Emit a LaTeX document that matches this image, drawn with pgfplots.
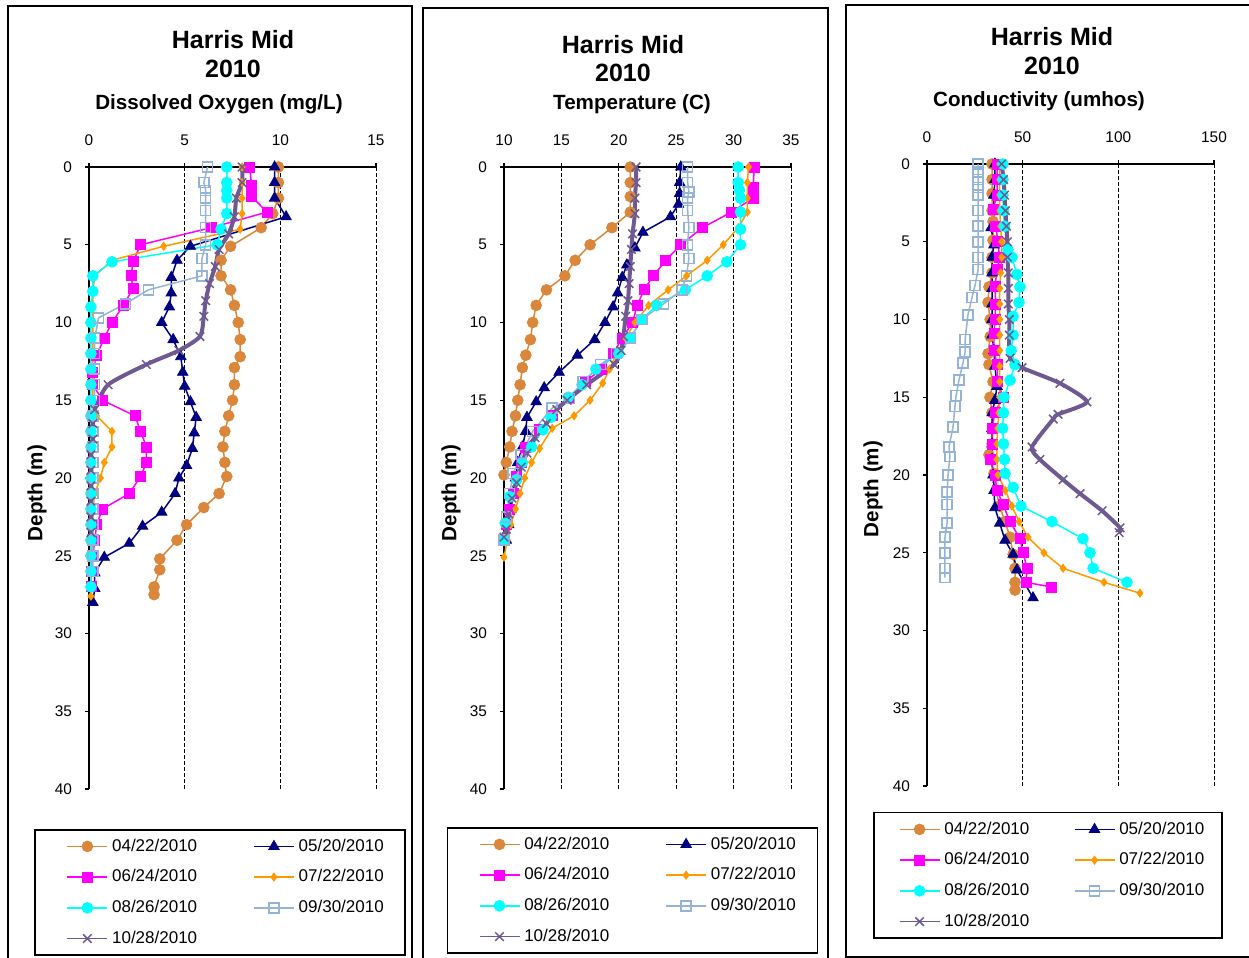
\documentclass[border=0pt]{standalone}
\usepackage{pgfplots}
\pgfplotsset{compat=1.18}
\usepackage{fontspec}
\setmainfont{Liberation Sans}

\definecolor{c1}{RGB}{218,134,59}
\definecolor{c2}{RGB}{0,0,128}
\definecolor{c3}{RGB}{255,0,255}
\definecolor{c4}{RGB}{255,153,0}
\definecolor{c5}{RGB}{0,255,255}
\definecolor{c6}{RGB}{149,179,215}
\definecolor{c7}{RGB}{111,89,145}

\pgfplotsset{
 s1/.style={color=c1, line width=0.75pt, mark=*, mark size=2.7pt, mark options={solid, fill=c1, line width=0.4pt}},
 s2/.style={color=c2, line width=0.75pt, mark=triangle*, mark size=3pt, mark options={solid, fill=c2, line width=0.4pt}},
 s3/.style={color=c3, line width=0.75pt, mark=square*, mark size=2.5pt, mark options={solid, fill=c3, line width=0.4pt}},
 s4/.style={color=c4, line width=0.75pt, mark=diamond*, mark size=2pt, mark options={solid, fill=c4, line width=0.4pt}},
 s5/.style={color=c5, line width=0.75pt, mark=*, mark size=2.7pt, mark options={solid, fill=c5, line width=0.4pt}},
 s6/.style={color=c6, line width=0.75pt, mark=square, mark size=2.5pt, mark options={solid, line width=0.75pt}},
 s7/.style={color=c7, line width=2pt, mark=x, mark size=3pt, smooth, tension=0.4, mark options={solid, line width=0.75pt}},
 s7leg/.style={color=c7, line width=0.75pt, mark=x, mark size=3pt, mark options={solid, line width=0.75pt}},
 legimg/.style={legend image code/.code={\path (-#1,0pt); \draw[mark repeat=2,mark phase=2,##1] plot coordinates {(0pt,0pt) (10pt,0pt) (20pt,0pt)};}},
 panel/.style={
   scale only axis, height=311pt, width=143.5pt,
   y dir=reverse, ymin=0, ymax=40, ytick={0,5,...,40},
   axis x line*=top, axis y line*=left,
   tick align=outside, major tick length=2pt,
   xmajorgrids, major grid style={black, dash pattern=on 2pt off 1pt, line width=0.5pt},
   tick label style={font=\fontsize{7.7}{9}\selectfont},
   yticklabel style={xshift=-3pt},
   xticklabel style={yshift=5pt},
   /pgf/number format/assume math mode=true,
   clip=false,
   axis line style={line width=0.6pt, black},
   tick style={black, line width=0.6pt},
   legend columns=2, legend cell align=left,
   legimg=7pt,
   legend style={draw=black, line width=0.75pt, font=\fontsize{8.5}{10}\selectfont,
     inner xsep=8.7pt, inner ysep=2.5pt, row sep=3.7pt,
     /tikz/every even column/.append style={column sep=19pt}},
 },
}

\begin{document}
\begin{tikzpicture}
\path[use as bounding box] (0,0) rectangle (624.5pt,479pt);
\begin{scope}[x=0.5pt,y=-0.5pt,yshift=479pt]
 \draw[line width=0.75pt] (8,970) -- (8,6) -- (412,6) -- (412,970);
 \draw[line width=0.75pt] (423,970) -- (423,8) -- (828,8) -- (828,970);
 \draw[line width=0.75pt] (846,970) -- (846,5) -- (1260,5);
 \draw[line width=0.75pt] (846,957) -- (1260,957);
 \begin{scope}[every node/.style={font=\fontsize{12.5}{14}\selectfont\bfseries}]
  \node at (233,40) {Harris Mid};
  \node at (233,69) {2010};
  \node at (623,45) {Harris Mid};
  \node at (623,73) {2010};
  \node at (1052,37) {Harris Mid};
  \node at (1052,66) {2010};
 \end{scope}
 \begin{scope}[every node/.style={font=\fontsize{10.3}{12}\selectfont\bfseries}]
  \node at (219,104) {Dissolved Oxygen (mg/L)};
  \node at (632,104) {Temperature (C)};
  \node at (1039,101) {Conductivity (umhos)};
  \node[rotate=90] at (37,493) {Depth (m)};
  \node[rotate=90] at (451,493) {Depth (m)};
  \node[rotate=90] at (873,489) {Depth (m)};
 \end{scope}
\end{scope}

% ---------------- Dissolved oxygen ----------------
\begin{axis}[panel, at={(44.5pt,84.5pt)}, anchor=south west,
  xmin=0, xmax=15, xtick={0,5,10,15},
  legend style={at={(axis description cs:-0.19,-0.0643)}, anchor=north west}]
\addplot[s1, forget plot] coordinates {(9.9,0) (9.9,1) (9.9,2) (9.6,3) (9.0,3.9) (7.4,5.1) (6.9,6) (6.9,7) (7.4,7.9) (7.6,8.9) (7.8,10) (7.9,11.1) (7.9,12.2) (7.6,12.9) (7.6,14) (7.5,15) (7.3,16) (7.1,17) (7.0,18) (7.1,19) (7.2,19.9) (6.8,21) (6.0,21.9) (5.1,23) (4.6,24) (3.7,25.2) (3.7,25.9) (3.4,27) (3.4,27.5)};
\addplot[s2, forget plot] coordinates {(9.7,0) (9.7,1) (9.7,2) (10.3,3.2) (5.3,5.1) (4.6,6) (4.3,7.1) (4.3,8.1) (4.2,9) (3.8,10) (4.4,11.1) (4.8,12.2) (4.9,13.2) (5.0,14.1) (5.3,15.1) (5.6,16.1) (5.5,17.1) (5.4,18.1) (5.1,19.2) (4.7,20) (4.5,21) (3.8,22.2) (2.8,23.1) (2.1,24.2) (0.8,25.1) (0.3,26.1) (0.3,27.1) (0.2,28)};
\addplot[s3, forget plot] coordinates {(8.4,0) (8.5,1.2) (8.5,1.9) (9.3,2.9) (6.4,3.9) (2.7,5) (2.3,6.1) (2.2,7) (2.3,7.8) (1.8,8.9) (1.2,10) (0.8,11) (0.4,12.1) (0.2,13.2) (0.2,14) (0.7,15) (2.4,16) (2.7,17) (3.0,18) (3.0,19) (2.7,19.9) (2.1,21) (0.7,22) (0.4,23) (0.3,24) (0.2,25) (0.1,26) (0.1,27)};
\addplot[s4, forget plot] coordinates {(8.0,0) (8.0,1) (8.0,2) (8.0,3) (7.9,4) (3.9,5.1) (1.2,6) (0.3,7) (0.2,8) (0.2,9) (0.2,10) (0.2,11) (0.2,12) (0.2,13) (0.2,14) (0.2,15) (0.4,16) (1.2,17) (1.2,18) (0.8,19) (0.6,20) (0.3,21) (0.2,22) (0.2,23) (0.2,24) (0.1,25) (0.1,26) (0.1,27) (0.1,27.6)};
\addplot[s5, forget plot] coordinates {(7.2,0) (7.2,1) (7.2,1.5) (7.2,2) (7.2,3) (6.9,4) (6.7,5) (1.2,6.1) (0.2,7) (0.2,8) (0.1,9) (0.1,10) (0.1,11) (0.1,12) (0.1,13) (0.1,14) (0.1,15) (0.1,16) (0.1,17) (0.1,18) (0.1,19) (0.1,20) (0.1,21) (0.1,22) (0.1,23) (0.1,24) (0.1,25) (0.1,26) (0.1,27)};
\addplot[s6, forget plot] coordinates {(6.2,0) (6.0,1) (6.1,1.5) (6.1,2) (6.1,2.8) (6.1,3.9) (6.1,5) (5.9,5.9) (5.9,7) (3.1,7.9) (1.9,8.8) (0.5,9.7) (0.3,11) (0.3,12) (0.3,13) (0.3,14) (0.3,15) (0.2,16) (0.2,17) (0.2,18) (0.2,19) (0.2,20) (0.2,21) (0.2,22) (0.2,23) (0.2,24) (0.2,25) (0.2,26)};
\addplot[s7, forget plot] coordinates {(8.0,0) (8.0,1) (7.7,2) (7.6,3.2) (7.3,4.3) (6.8,5.3) (6.6,6.4) (6.3,7.5) (6.1,8.6) (6.0,9.6) (5.8,10.9) (4.7,11.8) (3.0,12.7) (1.0,14) (0.3,15.6) (0.2,16.5) (0.2,17.5) (0.1,18.5) (0.1,19.5) (0.1,20.5) (0.1,21.5) (0.1,22.5) (0.1,23.5)};
\addlegendimage{s1}\addlegendimage{s2}\addlegendimage{s3}\addlegendimage{s4}
\addlegendimage{s5}\addlegendimage{s6}\addlegendimage{s7leg}
\legend{04/22/2010,05/20/2010,06/24/2010,07/22/2010,08/26/2010,09/30/2010,10/28/2010}
\end{axis}

% ---------------- Temperature ----------------
\begin{axis}[panel, at={(252pt,84.5pt)}, anchor=south west,
  xmin=10, xmax=35, xtick={10,15,...,35},
  legend style={at={(axis description cs:-0.2,-0.0611)}, anchor=north west}]
\addplot[s1, forget plot] coordinates {(21.0,0) (21.0,1) (21.0,1.9) (21.0,2.9) (19.4,3.9) (17.5,5) (16.2,6) (15.3,7) (13.7,7.9) (12.8,8.9) (12.5,10) (12.3,11.1) (11.9,12.1) (11.6,12.9) (11.4,14) (11.2,15) (11.0,16) (10.7,17) (10.5,18) (10.2,19) (10.0,19.8)};
\addplot[s2, forget plot] coordinates {(25.4,0) (25.3,1) (25.3,1.7) (25.2,2.4) (24.5,3.2) (22.1,4.2) (21.4,5.2) (20.7,6.3) (20.3,7.1) (19.9,8.1) (19.5,9) (18.8,10) (17.9,11.1) (16.4,12.1) (14.8,13.2) (13.5,14.2) (12.8,15.1) (12.0,16.1) (11.9,17) (11.6,18) (11.2,19) (11.0,20) (10.8,21) (10.6,22) (10.4,23) (10.2,24)};
\addplot[s3, forget plot] coordinates {(31.8,0) (31.7,1.3) (31.7,2) (29.8,2.9) (27.3,3.9) (25.4,5) (24.1,6) (23.0,7) (22.2,7.9) (21.6,8.9) (21.2,10) (20.3,11) (19.5,12) (18.5,13) (17.1,13.8) (15.7,14.9) (14.2,16) (13.1,16.9) (11.9,18) (11.5,19) (11.1,19.9) (10.8,21) (10.5,22) (10.2,23) (10.0,24)};
\addplot[s4, forget plot] coordinates {(31.3,0) (31.2,1) (31.2,2) (31.2,2.9) (30.4,3.9) (29.1,5) (27.7,6) (25.9,7) (24.3,7.9) (22.6,8.9) (21.4,10) (20.6,11) (19.8,12) (19.2,13) (18.6,13.9) (17.5,15) (16.1,16) (14.2,16.8) (13.1,18.1) (12.4,19) (11.8,20) (11.4,21) (11.0,22) (10.6,23) (10.3,24) (10.0,25.1)};
\addplot[s5, forget plot] coordinates {(30.4,0) (30.4,1) (30.5,1.5) (30.6,2) (30.6,2.9) (30.6,4) (30.6,5) (29.4,6.1) (27.7,7) (25.8,7.9) (23.3,8.9) (22.0,9.8) (21.0,11) (20.0,12) (18.0,13) (16.8,14) (15.6,14.8) (14.1,16.1) (13.4,16.9) (12.4,18) (11.6,19) (11.1,20.1) (10.5,21.2) (10.1,22.9) (10.0,24)};
\addplot[s6, forget plot] coordinates {(26.0,0) (26.0,1) (26.1,1.6) (26.0,2) (26.0,2.8) (26.1,3.9) (26.0,5) (26.1,5.9) (25.9,7) (25.5,7.9) (23.9,8.8) (22.0,9.8) (21.0,11) (19.8,12) (18.4,12.7) (16.9,13.8) (15.7,14.9) (14.2,15.5) (12.5,17) (11.5,18.5) (10.8,19.7) (10.5,21) (10.2,22.5) (10.0,24)};
\addplot[s7, forget plot] coordinates {(21.5,0) (21.5,1) (21.4,2) (21.4,3) (21.2,4.3) (21.1,5.3) (21.0,6.4) (20.9,7.5) (20.8,8.6) (20.6,9.6) (20.4,10.9) (20.2,11.8) (19.6,12.7) (17.2,14) (15.5,15) (14.6,15.6) (13.7,16.5) (12.7,17.4) (12.0,18.4) (11.5,19.3) (11.1,20.3) (10.7,21.3) (10.4,22.3) (10.2,23.3) (10.0,23.8)};
\addlegendimage{s1}\addlegendimage{s2}\addlegendimage{s3}\addlegendimage{s4}
\addlegendimage{s5}\addlegendimage{s6}\addlegendimage{s7leg}
\legend{04/22/2010,05/20/2010,06/24/2010,07/22/2010,08/26/2010,09/30/2010,10/28/2010}
\end{axis}

% ---------------- Conductivity ----------------
\begin{axis}[panel, at={(463.5pt,86pt)}, anchor=south west,
  xmin=0, xmax=150, xtick={0,50,100,150},
  legimg=5.8pt,
  legend style={at={(axis description cs:-0.188,-0.0418)}, anchor=north west,
    inner xsep=6.7pt, /tikz/every even column/.append style={column sep=14.4pt}}]
\addplot[s1, forget plot] coordinates {(34,0) (34,1) (34,1.9) (34,3) (34.5,3.7) (34.5,4.9) (34,6) (34,7) (32.4,7.9) (31.9,8.9) (33,10) (33,11.1) (31.9,12.2) (32.4,12.9) (34.5,14) (32.9,15) (34,16) (34.5,17) (34,18) (32.4,18.7) (35,19.9) (36,21) (38,22) (40.8,23) (43.4,24) (45,25.1) (46,26) (46,26.9) (46,27.4)};
\addplot[s2, forget plot] coordinates {(35.5,0) (35.5,1) (35,2) (35,3) (33.5,4.1) (35,5.2) (34,6) (34,7) (34,8) (34,9) (34,10) (34,11) (35,12) (35.5,13) (36.6,14.3) (35.5,15.2) (34,16) (34,17) (34,18) (34,19) (34.5,20) (35,21) (35.5,22.1) (38,23.1) (40.8,24.2) (45,25.1) (47,26.1) (55.4,27.9)};
\addplot[s3, forget plot] coordinates {(36.6,0) (36.6,1) (36.6,2) (34.5,2.9) (36,4) (37,5) (38,6) (36.6,6.8) (35.5,7.9) (36,9) (35.5,10) (35,10.9) (35,12) (36.6,12.9) (37,14) (39.7,15) (35.5,16) (34,17) (34,18) (33,19) (35.5,20) (36.6,21) (39.7,21.9) (43.4,23) (48.6,24.1) (50.2,25) (52.3,26) (51.7,26.9) (64.8,27.2)};
\addplot[s4, forget plot] coordinates {(38,0) (38,1) (38,2) (38,3) (38.5,4) (39,5) (39,6) (38.5,7) (38,8) (38,9) (38,10) (38,11) (38,12) (38,13) (38,14) (38,15) (37.5,16) (37,17) (36.5,18) (36.5,19) (37.1,20) (41,21) (44.4,22) (48.1,23) (52.8,24) (61.1,25) (71.1,26) (92.5,26.9) (111.3,27.6)};
\addplot[s5, forget plot] coordinates {(39.7,0) (39.7,1) (39.7,2) (40,3) (40.5,4) (42.3,5.5) (44.4,6) (47,7.1) (48.6,7.9) (48.1,8.9) (45,9.8) (45,11) (44,12) (46,12.9) (43.4,13.9) (40.2,15) (40,16) (39.5,17) (40,18) (40.5,19) (40.8,19.9) (45,20.8) (49.1,22) (65.3,23) (81.5,24.1) (85.2,25) (86.8,26) (104.5,26.9)};
\addplot[s6, forget plot] coordinates {(26.7,0) (26.7,0.5) (26.7,1) (26.7,1.5) (26.7,2) (26.7,3) (26.7,4) (26.7,5) (26.7,6) (26.7,6.8) (25.1,7.8) (23.5,8.6) (21.4,9.7) (19.9,11.3) (19.9,12.1) (18.8,12.8) (16.7,13.9) (15.2,14.9) (14.6,15.6) (13.6,16.9) (11.5,18.2) (12.0,18.8) (11.0,20) (10.5,21.1) (10.5,21.9) (10.5,23.1) (9.4,24) (9.4,25) (9.4,26) (9.4,26.6)};
\addplot[s7, forget plot] coordinates {(39,0) (40,1) (40.5,2) (41,3) (41.5,4) (42,5) (42,6) (42.5,7) (42.5,8) (42.5,9) (43,10) (43,11) (43.4,12.5) (49.7,13.1) (69.5,14.1) (83.6,15.3) (68.5,16.1) (66,16.4) (54.9,18.2) (59,19) (71.1,20.3) (80,21.2) (91.5,22.3) (100.9,23.4) (100.4,23.7)};
\addlegendimage{s1}\addlegendimage{s2}\addlegendimage{s3}\addlegendimage{s4}
\addlegendimage{s5}\addlegendimage{s6}\addlegendimage{s7leg}
\legend{04/22/2010,05/20/2010,06/24/2010,07/22/2010,08/26/2010,09/30/2010,10/28/2010}
\end{axis}
\end{tikzpicture}
\end{document}
